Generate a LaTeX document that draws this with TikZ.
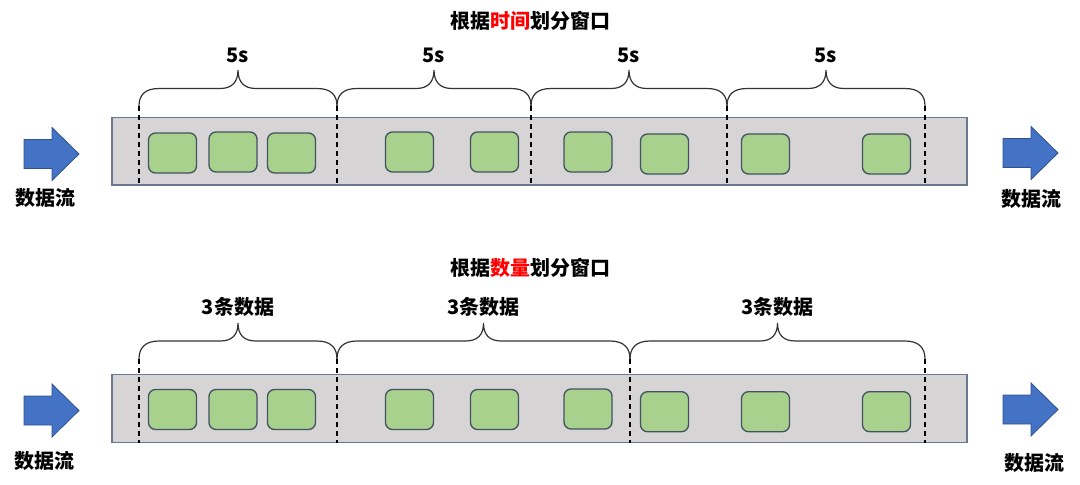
\documentclass[tikz,border=0pt]{standalone}
\usepackage{fontspec}
\setmainfont{Noto Sans CJK SC}
\usepackage{tikz}
\definecolor{grainfill}{RGB}{169, 209, 142}
\definecolor{grainedge}{RGB}{66, 82, 96}
\definecolor{bandfill}{RGB}{215, 212, 213}
\definecolor{bandedge}{RGB}{106, 121, 145}
\definecolor{flowblue}{RGB}{68, 114, 196}
\definecolor{flowedge}{RGB}{47, 82, 143}
\definecolor{keyred}{RGB}{255, 0, 0}
\tikzset{
    band/.style    = {fill=bandfill, draw=bandedge, line width=1.3pt},
    grain/.style   = {draw=grainedge, fill=grainfill, line width=1.3pt, rounded corners=7pt,
                      minimum width=48pt, minimum height=40pt, inner sep=0pt},
    divider/.style = {line width=1.4pt, dash pattern=on 5pt off 4pt},
    curly/.style   = {line width=1.2pt, draw=black!80},
    flow/.style    = {fill=flowblue, draw=flowedge, line width=0.8pt},
    caption/.style = {font=\bfseries\fontsize{20}{24}\selectfont, inner sep=0pt},
}
\begin{document}
\begin{tikzpicture}[x=1pt, y=-1pt]
        \useasboundingbox (0,0) rectangle (1080,485);
        % windows by time
        \node[caption] (titletime) at (530, 21) {根据\textcolor{keyred}{时间}划分窗口};
        \filldraw[band] (112,117.7) rectangle (967,185);
        \foreach \x/\y [count=\i] in {172.5/153, 233/152, 291.5/153, 409.5/152, 494.5/152,
                                      588/152, 664.5/154, 765.5/154, 886.5/154}
            \node[grain] (t\i) at (\x,\y) {};
        \foreach \x in {139, 337, 531, 727, 925}
            \draw[divider] (\x,106) -- (\x,185);
        \foreach \a/\b [count=\i] in {139/337, 337/531, 531/727, 727/925} {
            \pgfmathsetmacro\m{(\a+\b)/2}
            \draw[curly] (\a,106) .. controls (\a,95) and (\a+6,88.5) .. (\a+20,88.5) -- (\m-18,88.5)
                 .. controls (\m-6,88.5) and (\m,82) .. (\m,70) .. controls (\m,82) and (\m+6,88.5) .. (\m+18,88.5)
                 -- (\b-20,88.5) .. controls (\b-6,88.5) and (\b,95) .. (\b,106);
            \node[caption] (span\i) at (\m,55) {5s};
        }
        % windows by count
        \node[caption] (titlecount) at (530,268) {根据\textcolor{keyred}{数量}划分窗口};
        \filldraw[band] (112,374.3) rectangle (967,442.7);
        \foreach \x/\y [count=\i] in {172.5/409.5, 233/409.5, 291.5/409.5, 409.5/409.5, 494.5/409.5,
                                      588/409, 664.5/411.7, 765.5/411.7, 886.5/411.7}
            \node[grain] (c\i) at (\x,\y) {};
        \foreach \x in {139, 337, 630, 925}
            \draw[divider] (\x,359) -- (\x,442.7);
        \foreach \a/\b [count=\i] in {139/337, 337/630, 630/925} {
            \pgfmathsetmacro\m{(\a+\b)/2}
            \draw[curly] (\a,359) .. controls (\a,348) and (\a+6,341) .. (\a+20,341) -- (\m-18,341)
                 .. controls (\m-6,341) and (\m,335) .. (\m,323) .. controls (\m,335) and (\m+6,341) .. (\m+18,341)
                 -- (\b-20,341) .. controls (\b-6,341) and (\b,348) .. (\b,359);
            \node[caption] (batch\i) at (\m,307) {3条数据};
        }
        % stream arrows
        \foreach \tx/\ty in {79/154, 1058/153, 79/410.5, 1058/409.5}
            \filldraw[flow] (\tx-55,\ty-14.5) -- (\tx-27,\ty-14.5) -- (\tx-27,\ty-26.5) -- (\tx,\ty)
                 -- (\tx-27,\ty+26.5) -- (\tx-27,\ty+14.5) -- (\tx-55,\ty+14.5) -- cycle;
        \node[caption] (streamtl) at (46,198)   {数据流};
        \node[caption] (streamtr) at (1031,199) {数据流};
        \node[caption] (streambl) at (45,461)   {数据流};
        \node[caption] (streambr) at (1034,463) {数据流};
\end{tikzpicture}
\end{document}
